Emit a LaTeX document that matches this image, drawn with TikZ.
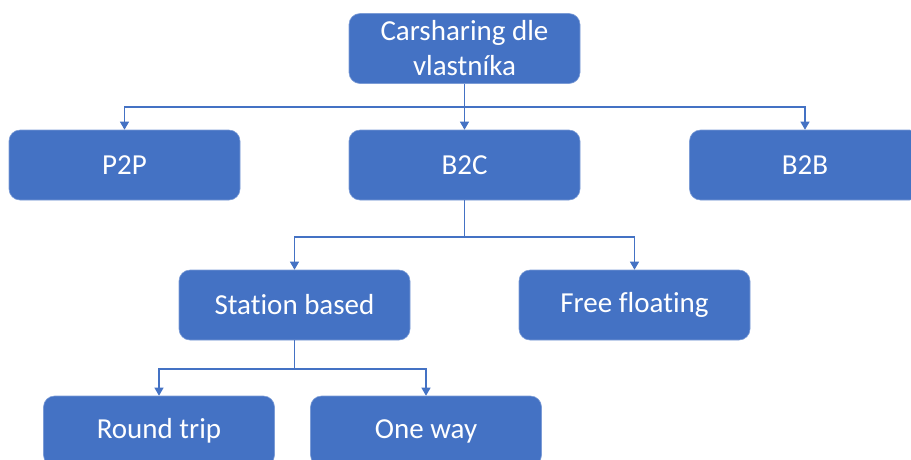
\documentclass[tikz,border=0pt]{standalone}
\usepackage{fontspec}
\setmainfont[Ligatures=NoCommon]{Carlito}
\usetikzlibrary{arrows.meta}

\definecolor{boxblue}{HTML}{4472C4}

\begin{document}
\begin{tikzpicture}[x=1pt,y=-1pt,
    box/.style={shape=rectangle,rounded corners=11pt,fill=boxblue,draw=boxblue!70!white,
      line width=0.6pt,text=white,minimum width=231pt,minimum height=70pt,
      align=center,font=\fontsize{29}{35}\selectfont},
    link/.style={draw=boxblue,line width=1.1pt},
    tip/.style={link,-{Triangle[width=9pt,length=8pt]}}]
  \useasboundingbox (0,0) rectangle (911,459);
  \node[box] (owner) at (464.5,48.5) {Carsharing dle\\vlastníka};
  \node[box] (ptp) at (124.5,165) {P2P};
  \node[box] (btc) at (464.5,165) {B2C};
  \node[box] (btb) at (805,165) {B2B};
  \node[box] (station) at (294.5,305) {Station based};
  \node[box] (free) at (634.5,305) {Free floating};
  \node[box] (round) at (159,431) {Round trip};
  \node[box] (oneway) at (426,431) {One way};
  \coordinate (fork1) at (464.5,107);
  \coordinate (fork2) at (464.5,237);
  \coordinate (fork3) at (294.5,369);
  \path [link] (owner) -- (fork1);
  \path [tip] (fork1) -| (ptp.north);
  \path [tip] (fork1) -- (btc.north);
  \path [tip] (fork1) -| (btb.north);
  \path [link] (btc) -- (fork2);
  \path [tip] (fork2) -| (station.north);
  \path [tip] (fork2) -| (free.north);
  \path [link] (station) -- (fork3);
  \path [tip] (fork3) -| (round.north);
  \path [tip] (fork3) -| (oneway.north);
\end{tikzpicture}
\end{document}
